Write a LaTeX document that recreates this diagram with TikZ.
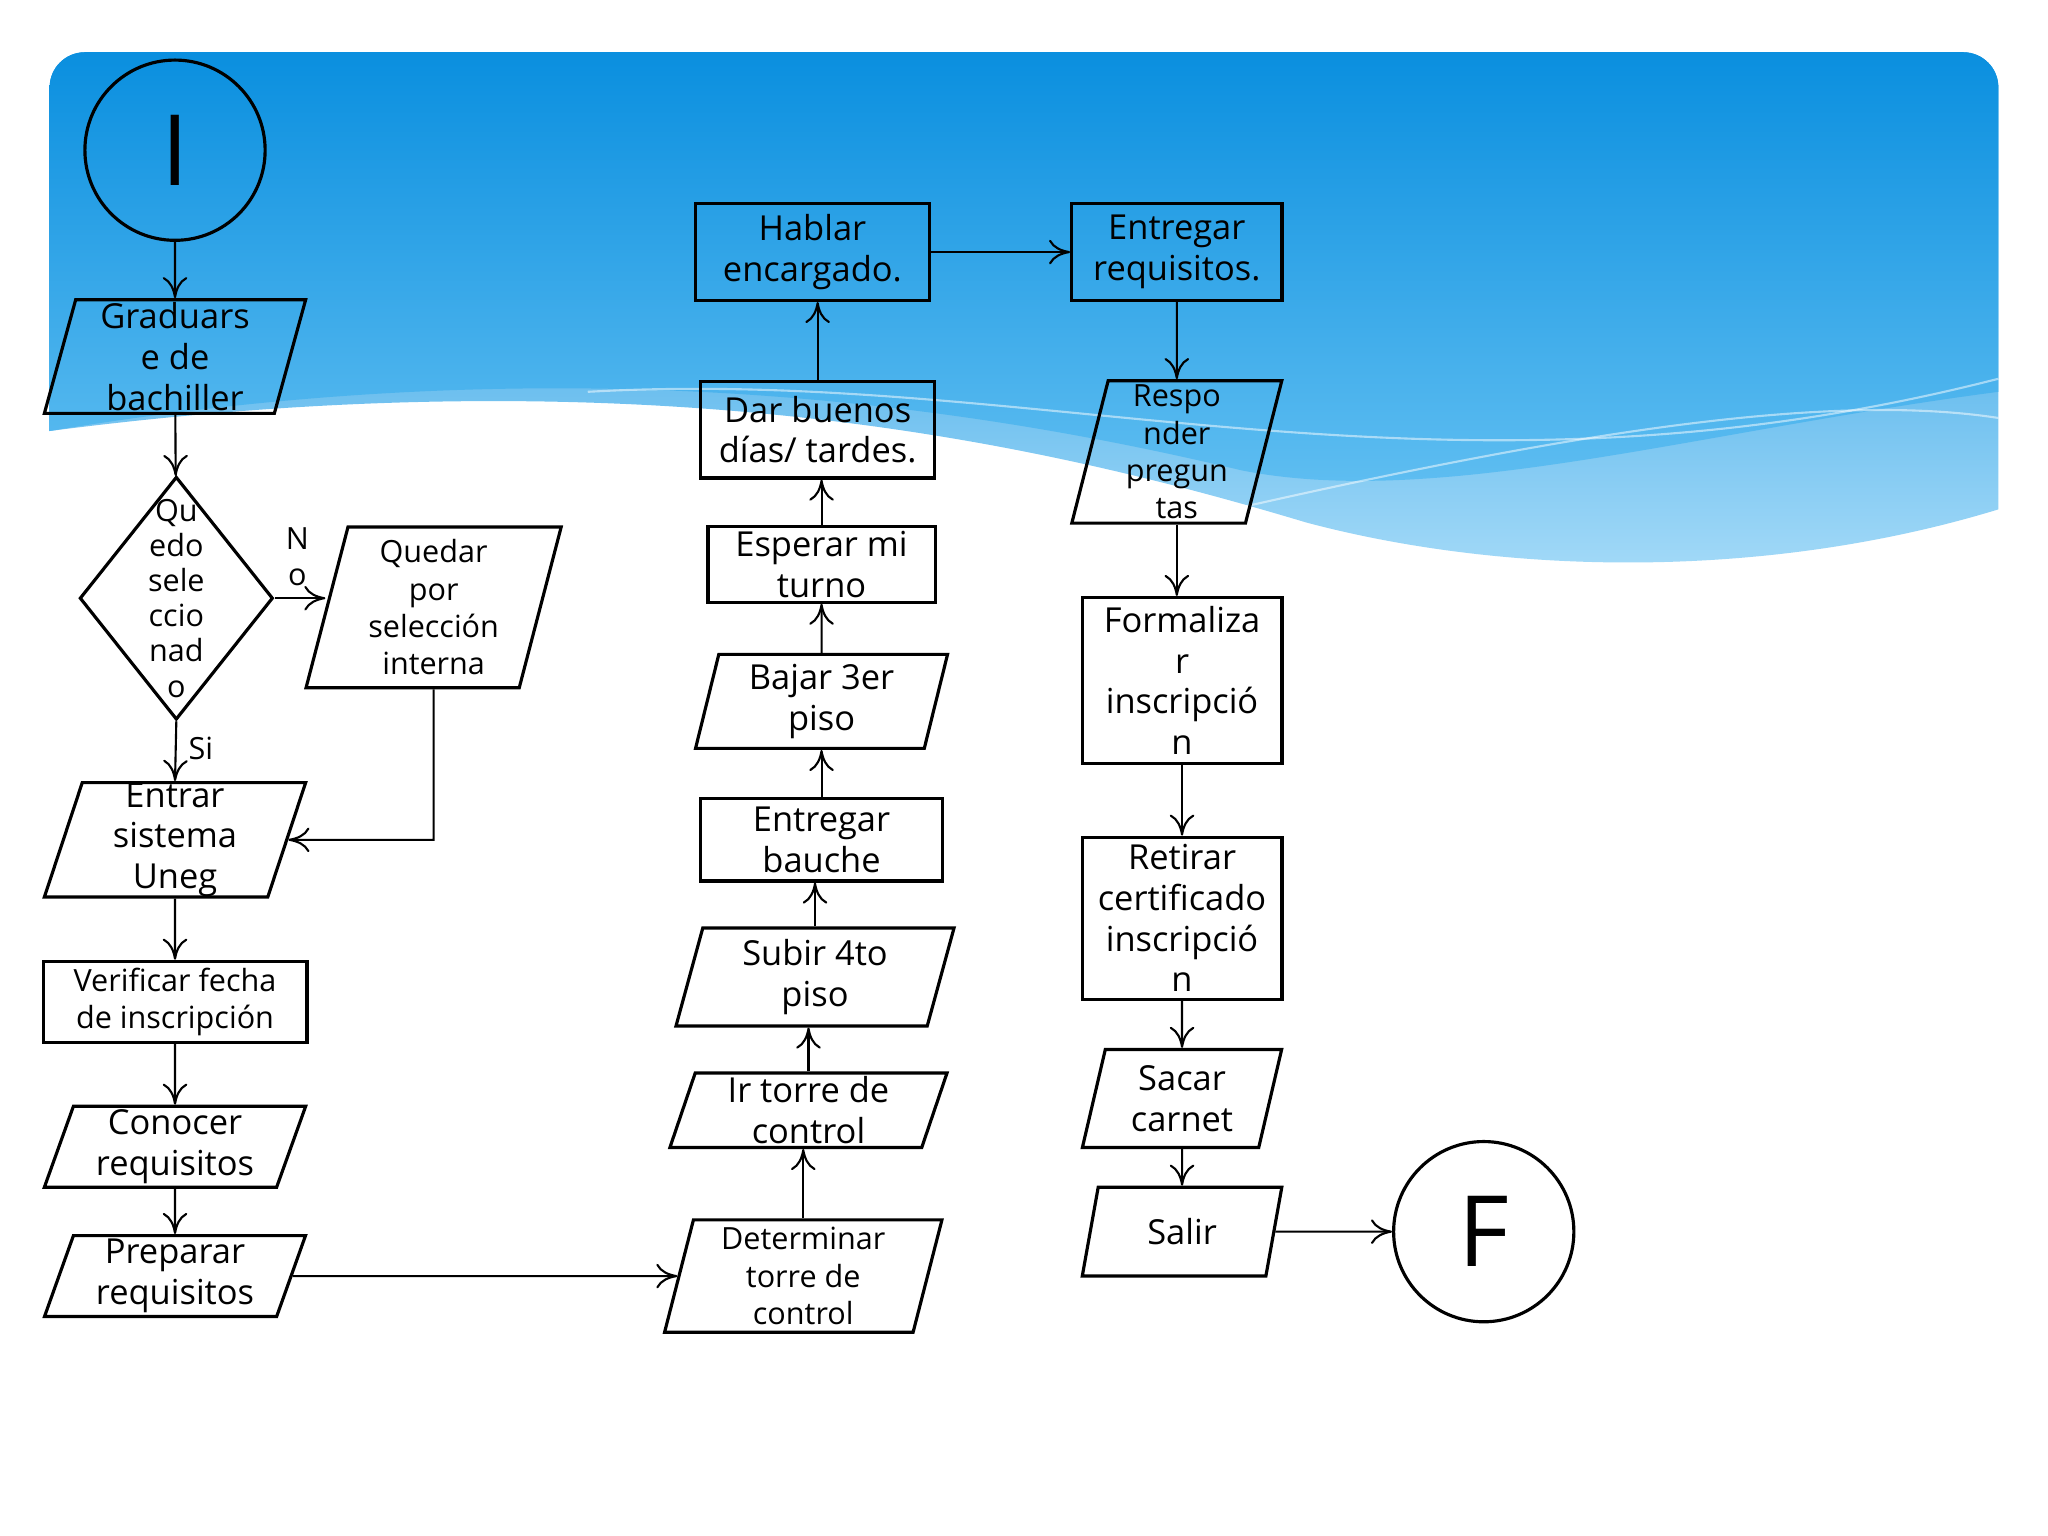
\documentclass[tikz,border=0pt]{standalone}
\usepackage{fontspec}
\setmainfont{Open Sans}
\usetikzlibrary{shapes.geometric,arrows.meta}
\newdimen\uu \uu=0.013061cm
\definecolor{bgA}{HTML}{0A8FDF}
\definecolor{bgB}{HTML}{63C0F2}
\definecolor{bgL}{HTML}{A6DBF8}
\begin{document}
\begin{tikzpicture}[x=0.013061cm,y=-0.013061cm,
  base/.style={draw,line width=0.9pt,align=center,inner sep=0pt,font=\fontsize{9.8}{11.6}\selectfont},
  small/.style={font=\fontsize{8.7}{10.6}\selectfont},
  box/.style n args={2}{base,rectangle,minimum width=#1\uu,minimum height=#2\uu},
  para/.style n args={3}{base,trapezium,trapezium stretches=true,trapezium left angle=#1,trapezium right angle=180-#1,minimum width=#2\uu,minimum height=#3\uu},
  term/.style={base,circle,minimum size=138\uu,font=\fontsize{28}{30}\selectfont},
  arr/.style={-{To[length=6pt,width=7pt]},line width=0.6pt}]
\useasboundingbox (0,0) rectangle (1568,1176);
\fill[white] (0,0) rectangle (1568,1176);
% background
\shade[top color=bgA,bottom color=bgL,rounded corners=10pt] (38,330) -- (38,40) -- (1530,40) [sharp corners]-- (1530,390) .. controls (1350,445) and (1150,440) .. (1000,400) .. controls (800,340) and (500,270) .. (38,330);
\shade[top color=bgA,bottom color=bgB,rounded corners=10pt] (38,330) -- (38,40) -- (1530,40) [sharp corners]-- (1530,300) .. controls (1300,330) and (1100,390) .. (950,360) .. controls (700,300) and (400,270) .. (38,330);
\draw[white,opacity=0.5,line width=0.6pt] (450,300) .. controls (800,280) and (1100,400) .. (1530,290);
\draw[white,opacity=0.5,line width=0.6pt] (900,400) .. controls (1200,330) and (1400,300) .. (1530,320);

\node[term] (I) at (134,115) {I};
\node[para={77.7}{201}{87}] (grad) at (134,273) {Graduars\\e de\\bachiller};
\node[base,diamond,aspect=0.8,inner sep=-14pt,minimum width=148\uu,minimum height=186\uu,font=\fontsize{8.7}{10}\selectfont] (dec) at (135,458) {Qu\\edo\\sele\\ccio\\nad\\o};
\node[para={76.7}{196}{123},small] (qued) at (332,465) {Quedar\\por\\selección\\interna};
\node[para={77.5}{201}{87}] (entr) at (134,643) {Entrar\\sistema\\Uneg};
\node[box={202}{62},small] (verif) at (134,767) {Verificar fecha\\de inscripción};
\node[para={73}{201}{62}] (cono) at (134,878) {Conocer\\requisitos};
\node[para={73}{201}{62}] (prep) at (134,977) {Preparar\\requisitos};
\node[para={77.5}{213}{86},small] (det) at (615,977) {Determinar\\torre de\\control};
\node[para={75}{213}{57}] (ir) at (619,850) {Ir torre de\\control};
\node[para={77}{214}{75}] (sub) at (624,748) {Subir 4to\\piso};
\node[box={185}{63}] (bau) at (629,643) {Entregar\\bauche};
\node[para={77.5}{193}{72}] (baj) at (629,537) {Bajar 3er\\piso};
\node[box={174}{58}] (esp) at (629,432) {Esperar mi\\turno};
\node[box={179}{74}] (dar) at (626,329) {Dar buenos\\días/ tardes.};
\node[box={179}{74}] (hab) at (622,193) {Hablar\\encargado.};
\node[box={161}{74}] (ereq) at (901,193) {Entregar\\requisitos.};
\node[para={78.6}{161}{109},small] (resp) at (901,346) {Respo\\nder\\pregun\\tas};
\node[box={153}{127}] (form) at (905,521) {Formaliza\\r\\inscripció\\n};
\node[box={153}{124}] (ret) at (905,703) {Retirar\\certificado\\inscripció\\n};
\node[para={77}{153}{75}] (sac) at (905,841) {Sacar\\carnet};
\node[para={76}{153}{68}] (sal) at (905,943) {Salir};
\node[term] (F) at (1136,943) {F};

\draw[arr] (I) -- (grad);
\draw[arr] (grad) -- (dec);
\draw[arr] (dec.east) -- node[above,pos=0.45,align=center,font=\fontsize{8.7}{10}\selectfont]{N\\o} (qued.west|-dec.east);
\draw[arr] (dec.south) -- node[right,small,pos=0.45]{Si} (entr.north);
\coordinate (q1) at (332,643);
\draw[arr] (qued.south) -- (q1) -- (entr.east|-q1);
\draw[arr] (entr) -- (verif);
\draw[arr] (verif) -- (cono);
\draw[arr] (cono) -- (prep);
\draw[arr] (prep.east) -- (det.west);
\draw[arr] (det.north) -- (det.north|-ir.south);
\draw[arr] (ir.north) -- (ir.north|-sub.south);
\draw[arr] (sub.north) -- (sub.north|-bau.south);
\draw[arr] (bau.north) -- (bau.north|-baj.south);
\draw[arr] (baj) -- (esp);
\draw[arr] (esp.north) -- (esp.north|-dar.south);
\draw[arr] (dar.north) -- (dar.north|-hab.south);
\draw[arr] (hab) -- (ereq);
\draw[arr] (ereq) -- (resp);
\draw[arr] (resp.south) -- (resp.south|-form.north);
\draw[arr] (form) -- (ret);
\draw[arr] (ret) -- (sac);
\draw[arr] (sac) -- (sal);
\draw[arr] (sal) -- (F);
\end{tikzpicture}
\end{document}
